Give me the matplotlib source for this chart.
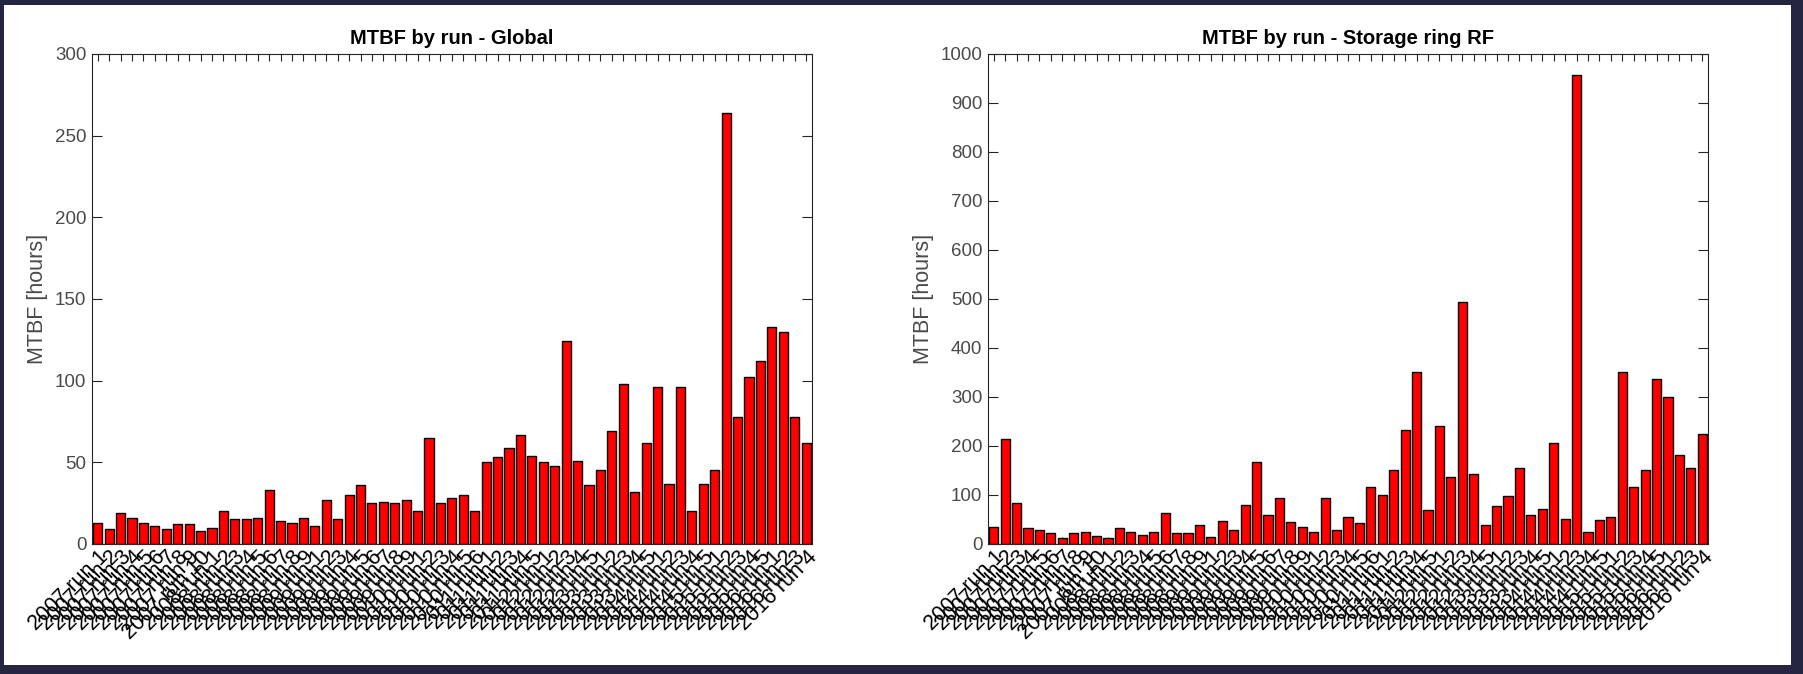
import matplotlib.pyplot as plt
from matplotlib.patches import Rectangle

# run labels: year -> number of runs
years = [2007, 2008, 2009, 2010, 2011, 2012, 2013, 2014, 2015, 2016]
runs_per_year = [10, 9, 9, 6, 5, 5, 5, 5, 5, 4]
run_labels = [f"{y} run {r}" for y, n in zip(years, runs_per_year) for r in range(1, n + 1)]

# MTBF [hours], global
mtbf_global = [13, 9, 19, 16, 13, 11, 9, 12, 12, 8,
               10, 20, 15, 15, 16, 33, 14, 13, 16, 11,
               27, 15, 30, 36, 25, 26, 25, 27, 20, 65,
               25, 28, 30, 20, 50, 53, 59, 67, 54, 50,
               48, 124, 51, 36, 45, 69, 98, 32, 62, 96,
               37, 96, 20, 37, 45, 264, 78, 102, 112, 133,
               130, 78, 62]

# MTBF [hours], storage ring RF
mtbf_rf = [35, 214, 84, 32, 28, 22, 12, 22, 25, 16,
           12, 32, 25, 18, 25, 64, 22, 22, 38, 15,
           47, 28, 80, 168, 59, 94, 45, 35, 25, 94,
           28, 55, 42, 116, 100, 150, 233, 352, 69, 240,
           136, 493, 142, 38, 78, 97, 155, 59, 72, 207,
           52, 958, 25, 48, 55, 352, 116, 152, 336, 299,
           182, 155, 224]

AX_COL = "#262626"
TXT_COL = "#4a4a4a"
BORDER = "#262541"

plt.rcParams['font.family'] = ['Liberation Sans', 'DejaVu Sans']

fig = plt.figure(figsize=(18.03, 6.74), dpi=100, facecolor=BORDER)
# white canvas inside the dark frame
fig.patches.append(Rectangle((4 / 1803, 9 / 674), 1787 / 1803, 660 / 674,
                             transform=fig.transFigure, facecolor="white",
                             edgecolor="none", zorder=-10))

panels = [
    (mtbf_global, "MTBF by run - Global", [0.0510, 0.1929, 0.3993, 0.7270], 300, 50),
    (mtbf_rf, "MTBF by run - Storage ring RF", [0.5480, 0.1929, 0.3993, 0.7270], 1000, 100),
]

for values, title, rect, ymax, ystep in panels:
    ax = fig.add_axes(rect)
    x = list(range(1, len(values) + 1))
    ax.bar(x, values, width=0.8, color="#ff0000", edgecolor="black", linewidth=1.0, zorder=2)
    ax.set_xlim(0.5, len(values) + 0.5)
    ax.set_ylim(0, ymax)
    ax.set_yticks(range(0, ymax + 1, ystep))
    ax.set_xticks(x)
    ax.set_xticklabels(run_labels, rotation=45, ha="right", va="top",
                       rotation_mode="anchor", fontsize=15.5, color="black")
    ax.tick_params(axis="y", direction="in", length=7, width=0.8, right=True,
                   labelsize=13.5, labelcolor=TXT_COL, color=AX_COL, pad=4)
    ax.tick_params(axis="x", direction="in", length=5, width=0.8, top=True,
                   color=AX_COL, pad=2)
    for sp in ax.spines.values():
        sp.set_color(AX_COL)
        sp.set_linewidth(0.8)
    ax.set_ylabel("MTBF [hours]", fontsize=15.5, color=TXT_COL, labelpad=5)
    ax.set_title(title, fontsize=14.5, fontweight="bold", color="black", pad=7)

fig.savefig("out.png", dpi=100, facecolor=fig.get_facecolor())
